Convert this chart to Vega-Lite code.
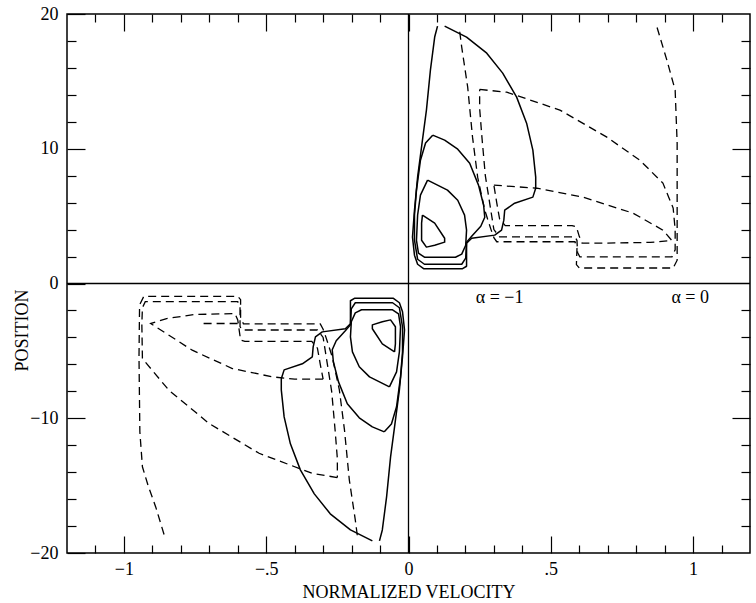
{
"$schema": "https://vega.github.io/schema/vega-lite/v6.json",
"width": 683, "height": 539,
"autosize": "none",
"padding": {"left": 67, "top": 14, "right": 6, "bottom": 50},
"config": {
  "view": {"stroke": "black", "strokeWidth": 1.5},
  "axis": {"domain": false, "grid": false, "labelFont": "Liberation Serif", "titleFont": "Liberation Serif", "labelFontSize": 18, "titleFontSize": 18, "titleFontWeight": "normal", "tickColor": "black", "labelColor": "black", "titleColor": "black", "tickWidth": 1.2}
},
"datasets": {
  "curves": [
    {"c":"S1","k":"s","i":0,"v":0.127,"p":19.1},{"c":"S1","k":"s","i":1,"v":0.204,"p":18.28},{"c":"S1","k":"s","i":2,"v":0.275,"p":17.09},{"c":"S1","k":"s","i":3,"v":0.331,"p":15.61},{"c":"S1","k":"s","i":4,"v":0.38,"p":13.83},{"c":"S1","k":"s","i":5,"v":0.415,"p":11.9},{"c":"S1","k":"s","i":6,"v":0.437,"p":9.9},{"c":"S1","k":"s","i":7,"v":0.447,"p":7.89},{"c":"S1","k":"s","i":8,"v":0.447,"p":7.07},{"c":"S1","k":"s","i":9,"v":0.437,"p":6.41},{"c":"S1","k":"s","i":10,"v":0.373,"p":5.96},{"c":"S1","k":"s","i":11,"v":0.338,"p":5.44},{"c":"S1","k":"s","i":12,"v":0.335,"p":4.7},{"c":"S1","k":"s","i":13,"v":0.327,"p":3.96},{"c":"S1","k":"s","i":14,"v":0.303,"p":3.59},{"c":"S1","k":"s","i":15,"v":0.222,"p":3.36},{"c":"S1","k":"s","i":16,"v":0.204,"p":2.99},{"c":"S1","k":"s","i":17,"v":0.204,"p":1.28},{"c":"S1","k":"s","i":18,"v":0.19,"p":1.1},{"c":"S1","k":"s","i":19,"v":0.053,"p":1.1},{"c":"S1","k":"s","i":20,"v":0.032,"p":1.43},{"c":"S1","k":"s","i":21,"v":0.021,"p":2.1},{"c":"S1","k":"s","i":22,"v":0.014,"p":3.44},{"c":"S1","k":"s","i":23,"v":0.021,"p":5.44},{"c":"S1","k":"s","i":24,"v":0.032,"p":7.89},{"c":"S1","k":"s","i":25,"v":0.049,"p":10.64},{"c":"S1","k":"s","i":26,"v":0.063,"p":12.87},{"c":"S1","k":"s","i":27,"v":0.077,"p":15.84},{"c":"S1","k":"s","i":28,"v":0.092,"p":18.29},{"c":"S1","k":"s","i":29,"v":0.102,"p":19.1},
    {"c":"S2","k":"s","i":0,"v":0.085,"p":11.01},{"c":"S2","k":"s","i":1,"v":0.127,"p":10.64},{"c":"S2","k":"s","i":2,"v":0.173,"p":9.97},{"c":"S2","k":"s","i":3,"v":0.215,"p":8.93},{"c":"S2","k":"s","i":4,"v":0.246,"p":7.3},{"c":"S2","k":"s","i":5,"v":0.264,"p":5.81},{"c":"S2","k":"s","i":6,"v":0.268,"p":4.92},{"c":"S2","k":"s","i":7,"v":0.254,"p":4.25},{"c":"S2","k":"s","i":8,"v":0.222,"p":3.51},{"c":"S2","k":"s","i":9,"v":0.204,"p":3.07},{"c":"S2","k":"s","i":10,"v":0.201,"p":1.88},{"c":"S2","k":"s","i":11,"v":0.187,"p":1.43},{"c":"S2","k":"s","i":12,"v":0.056,"p":1.43},{"c":"S2","k":"s","i":13,"v":0.032,"p":1.8},{"c":"S2","k":"s","i":14,"v":0.021,"p":3.21},{"c":"S2","k":"s","i":15,"v":0.021,"p":5.07},{"c":"S2","k":"s","i":16,"v":0.028,"p":6.93},{"c":"S2","k":"s","i":17,"v":0.042,"p":9.15},{"c":"S2","k":"s","i":18,"v":0.06,"p":10.42},{"c":"S2","k":"s","i":19,"v":0.085,"p":11.01},
    {"c":"S3","k":"s","i":0,"v":0.067,"p":7.67},{"c":"S3","k":"s","i":1,"v":0.102,"p":7.3},{"c":"S3","k":"s","i":2,"v":0.137,"p":6.93},{"c":"S3","k":"s","i":3,"v":0.173,"p":6.18},{"c":"S3","k":"s","i":4,"v":0.197,"p":5.07},{"c":"S3","k":"s","i":5,"v":0.204,"p":3.96},{"c":"S3","k":"s","i":6,"v":0.201,"p":2.84},{"c":"S3","k":"s","i":7,"v":0.187,"p":2.18},{"c":"S3","k":"s","i":8,"v":0.165,"p":1.95},{"c":"S3","k":"s","i":9,"v":0.056,"p":1.95},{"c":"S3","k":"s","i":10,"v":0.035,"p":2.25},{"c":"S3","k":"s","i":11,"v":0.028,"p":3.21},{"c":"S3","k":"s","i":12,"v":0.032,"p":5.07},{"c":"S3","k":"s","i":13,"v":0.042,"p":6.56},{"c":"S3","k":"s","i":14,"v":0.067,"p":7.67},
    {"c":"S4","k":"s","i":0,"v":0.049,"p":5.07},{"c":"S4","k":"s","i":1,"v":0.092,"p":4.48},{"c":"S4","k":"s","i":2,"v":0.127,"p":3.36},{"c":"S4","k":"s","i":3,"v":0.127,"p":3.07},{"c":"S4","k":"s","i":4,"v":0.092,"p":2.84},{"c":"S4","k":"s","i":5,"v":0.063,"p":2.7},{"c":"S4","k":"s","i":6,"v":0.046,"p":3.21},{"c":"S4","k":"s","i":7,"v":0.046,"p":4.48},{"c":"S4","k":"s","i":8,"v":0.049,"p":5.07},
    {"c":"D1","k":"d","i":0,"v":0.18,"p":18.68},{"c":"D1","k":"d","i":1,"v":0.187,"p":17.54},{"c":"D1","k":"d","i":2,"v":0.208,"p":14.57},{"c":"D1","k":"d","i":3,"v":0.225,"p":10.86},{"c":"D1","k":"d","i":4,"v":0.243,"p":7.89},{"c":"D1","k":"d","i":5,"v":0.268,"p":5.44},{"c":"D1","k":"d","i":6,"v":0.29,"p":4.0},{"c":"D1","k":"d","i":7,"v":0.3,"p":3.4},{"c":"D1","k":"d","i":8,"v":0.31,"p":3.1},{"c":"D1","k":"d","i":9,"v":0.585,"p":3.1},{"c":"D1","k":"d","i":10,"v":0.592,"p":2.6},{"c":"D1","k":"d","i":11,"v":0.59,"p":1.4},{"c":"D1","k":"d","i":12,"v":0.6,"p":1.15},{"c":"D1","k":"d","i":13,"v":0.93,"p":1.15},{"c":"D1","k":"d","i":14,"v":0.944,"p":1.73},{"c":"D1","k":"d","i":15,"v":0.944,"p":5.44},{"c":"D1","k":"d","i":16,"v":0.944,"p":10.42},{"c":"D1","k":"d","i":17,"v":0.937,"p":14.35},{"c":"D1","k":"d","i":18,"v":0.908,"p":16.57},{"c":"D1","k":"d","i":19,"v":0.873,"p":19.03},
    {"c":"D2","k":"d","i":0,"v":0.25,"p":14.4},{"c":"D2","k":"d","i":1,"v":0.345,"p":14.2},{"c":"D2","k":"d","i":2,"v":0.532,"p":12.87},{"c":"D2","k":"d","i":3,"v":0.697,"p":10.86},{"c":"D2","k":"d","i":4,"v":0.813,"p":9.15},{"c":"D2","k":"d","i":5,"v":0.894,"p":7.45},{"c":"D2","k":"d","i":6,"v":0.93,"p":5.6},{"c":"D2","k":"d","i":7,"v":0.937,"p":4.0},{"c":"D2","k":"d","i":8,"v":0.937,"p":2.5},{"c":"D2","k":"d","i":9,"v":0.926,"p":1.98},{"c":"D2","k":"d","i":10,"v":0.602,"p":1.98},{"c":"D2","k":"d","i":11,"v":0.594,"p":2.3},{"c":"D2","k":"d","i":12,"v":0.592,"p":3.2},{"c":"D2","k":"d","i":13,"v":0.585,"p":3.46},{"c":"D2","k":"d","i":14,"v":0.32,"p":3.46},{"c":"D2","k":"d","i":15,"v":0.3,"p":4.0},{"c":"D2","k":"d","i":16,"v":0.285,"p":6.0},{"c":"D2","k":"d","i":17,"v":0.27,"p":8.0},{"c":"D2","k":"d","i":18,"v":0.258,"p":10.86},{"c":"D2","k":"d","i":19,"v":0.25,"p":13.0},{"c":"D2","k":"d","i":20,"v":0.25,"p":14.4},
    {"c":"D3","k":"d","i":0,"v":0.3,"p":7.3},{"c":"D3","k":"d","i":1,"v":0.451,"p":7.07},{"c":"D3","k":"d","i":2,"v":0.613,"p":6.41},{"c":"D3","k":"d","i":3,"v":0.789,"p":5.22},{"c":"D3","k":"d","i":4,"v":0.894,"p":3.96},{"c":"D3","k":"d","i":5,"v":0.925,"p":3.2},{"c":"D3","k":"d","i":6,"v":0.85,"p":3.05},{"c":"D3","k":"d","i":7,"v":0.7,"p":3.0},{"c":"D3","k":"d","i":8,"v":0.61,"p":3.0},{"c":"D3","k":"d","i":9,"v":0.6,"p":3.5},{"c":"D3","k":"d","i":10,"v":0.59,"p":4.2},{"c":"D3","k":"d","i":11,"v":0.575,"p":4.3},{"c":"D3","k":"d","i":12,"v":0.34,"p":4.3},{"c":"D3","k":"d","i":13,"v":0.32,"p":4.8},{"c":"D3","k":"d","i":14,"v":0.31,"p":6.0},{"c":"D3","k":"d","i":15,"v":0.3,"p":7.3},

    {"c":"L1","k":"s","i":0,"v":-0.127,"p":-19.1},{"c":"L1","k":"s","i":1,"v":-0.204,"p":-18.28},{"c":"L1","k":"s","i":2,"v":-0.275,"p":-17.09},{"c":"L1","k":"s","i":3,"v":-0.331,"p":-15.61},{"c":"L1","k":"s","i":4,"v":-0.38,"p":-13.83},{"c":"L1","k":"s","i":5,"v":-0.415,"p":-11.9},{"c":"L1","k":"s","i":6,"v":-0.437,"p":-9.9},{"c":"L1","k":"s","i":7,"v":-0.447,"p":-7.89},{"c":"L1","k":"s","i":8,"v":-0.447,"p":-7.07},{"c":"L1","k":"s","i":9,"v":-0.437,"p":-6.41},{"c":"L1","k":"s","i":10,"v":-0.373,"p":-5.96},{"c":"L1","k":"s","i":11,"v":-0.338,"p":-5.44},{"c":"L1","k":"s","i":12,"v":-0.335,"p":-4.7},{"c":"L1","k":"s","i":13,"v":-0.327,"p":-3.96},{"c":"L1","k":"s","i":14,"v":-0.303,"p":-3.59},{"c":"L1","k":"s","i":15,"v":-0.222,"p":-3.36},{"c":"L1","k":"s","i":16,"v":-0.204,"p":-2.99},{"c":"L1","k":"s","i":17,"v":-0.204,"p":-1.28},{"c":"L1","k":"s","i":18,"v":-0.19,"p":-1.1},{"c":"L1","k":"s","i":19,"v":-0.053,"p":-1.1},{"c":"L1","k":"s","i":20,"v":-0.032,"p":-1.43},{"c":"L1","k":"s","i":21,"v":-0.021,"p":-2.1},{"c":"L1","k":"s","i":22,"v":-0.014,"p":-3.44},{"c":"L1","k":"s","i":23,"v":-0.021,"p":-5.44},{"c":"L1","k":"s","i":24,"v":-0.032,"p":-7.89},{"c":"L1","k":"s","i":25,"v":-0.049,"p":-10.64},{"c":"L1","k":"s","i":26,"v":-0.063,"p":-12.87},{"c":"L1","k":"s","i":27,"v":-0.077,"p":-15.84},{"c":"L1","k":"s","i":28,"v":-0.092,"p":-18.29},{"c":"L1","k":"s","i":29,"v":-0.102,"p":-19.1},
    {"c":"L2","k":"s","i":0,"v":-0.085,"p":-11.01},{"c":"L2","k":"s","i":1,"v":-0.127,"p":-10.64},{"c":"L2","k":"s","i":2,"v":-0.173,"p":-9.97},{"c":"L2","k":"s","i":3,"v":-0.215,"p":-8.93},{"c":"L2","k":"s","i":4,"v":-0.246,"p":-7.3},{"c":"L2","k":"s","i":5,"v":-0.264,"p":-5.81},{"c":"L2","k":"s","i":6,"v":-0.268,"p":-4.92},{"c":"L2","k":"s","i":7,"v":-0.254,"p":-4.25},{"c":"L2","k":"s","i":8,"v":-0.222,"p":-3.51},{"c":"L2","k":"s","i":9,"v":-0.204,"p":-3.07},{"c":"L2","k":"s","i":10,"v":-0.201,"p":-1.88},{"c":"L2","k":"s","i":11,"v":-0.187,"p":-1.43},{"c":"L2","k":"s","i":12,"v":-0.056,"p":-1.43},{"c":"L2","k":"s","i":13,"v":-0.032,"p":-1.8},{"c":"L2","k":"s","i":14,"v":-0.021,"p":-3.21},{"c":"L2","k":"s","i":15,"v":-0.021,"p":-5.07},{"c":"L2","k":"s","i":16,"v":-0.028,"p":-6.93},{"c":"L2","k":"s","i":17,"v":-0.042,"p":-9.15},{"c":"L2","k":"s","i":18,"v":-0.06,"p":-10.42},{"c":"L2","k":"s","i":19,"v":-0.085,"p":-11.01},
    {"c":"L3","k":"s","i":0,"v":-0.067,"p":-7.67},{"c":"L3","k":"s","i":1,"v":-0.102,"p":-7.3},{"c":"L3","k":"s","i":2,"v":-0.137,"p":-6.93},{"c":"L3","k":"s","i":3,"v":-0.173,"p":-6.18},{"c":"L3","k":"s","i":4,"v":-0.197,"p":-5.07},{"c":"L3","k":"s","i":5,"v":-0.204,"p":-3.96},{"c":"L3","k":"s","i":6,"v":-0.201,"p":-2.84},{"c":"L3","k":"s","i":7,"v":-0.187,"p":-2.18},{"c":"L3","k":"s","i":8,"v":-0.165,"p":-1.95},{"c":"L3","k":"s","i":9,"v":-0.056,"p":-1.95},{"c":"L3","k":"s","i":10,"v":-0.035,"p":-2.25},{"c":"L3","k":"s","i":11,"v":-0.028,"p":-3.21},{"c":"L3","k":"s","i":12,"v":-0.032,"p":-5.07},{"c":"L3","k":"s","i":13,"v":-0.042,"p":-6.56},{"c":"L3","k":"s","i":14,"v":-0.067,"p":-7.67},
    {"c":"L4","k":"s","i":0,"v":-0.049,"p":-5.07},{"c":"L4","k":"s","i":1,"v":-0.092,"p":-4.48},{"c":"L4","k":"s","i":2,"v":-0.127,"p":-3.36},{"c":"L4","k":"s","i":3,"v":-0.127,"p":-3.07},{"c":"L4","k":"s","i":4,"v":-0.092,"p":-2.84},{"c":"L4","k":"s","i":5,"v":-0.063,"p":-2.7},{"c":"L4","k":"s","i":6,"v":-0.046,"p":-3.21},{"c":"L4","k":"s","i":7,"v":-0.046,"p":-4.48},{"c":"L4","k":"s","i":8,"v":-0.049,"p":-5.07},
    {"c":"M1","k":"d","i":0,"v":-0.18,"p":-18.68},{"c":"M1","k":"d","i":1,"v":-0.187,"p":-17.54},{"c":"M1","k":"d","i":2,"v":-0.208,"p":-14.57},{"c":"M1","k":"d","i":3,"v":-0.225,"p":-10.86},{"c":"M1","k":"d","i":4,"v":-0.243,"p":-7.89},{"c":"M1","k":"d","i":5,"v":-0.268,"p":-5.44},{"c":"M1","k":"d","i":6,"v":-0.29,"p":-4.0},{"c":"M1","k":"d","i":7,"v":-0.3,"p":-3.4},{"c":"M1","k":"d","i":8,"v":-0.31,"p":-3.0},{"c":"M1","k":"d","i":9,"v":-0.58,"p":-3.0},{"c":"M1","k":"d","i":10,"v":-0.59,"p":-2.5},{"c":"M1","k":"d","i":11,"v":-0.59,"p":-1.2},{"c":"M1","k":"d","i":12,"v":-0.6,"p":-0.95},{"c":"M1","k":"d","i":13,"v":-0.93,"p":-0.95},{"c":"M1","k":"d","i":14,"v":-0.945,"p":-1.6},{"c":"M1","k":"d","i":15,"v":-0.947,"p":-5.44},{"c":"M1","k":"d","i":16,"v":-0.944,"p":-11.0},{"c":"M1","k":"d","i":17,"v":-0.935,"p":-13.6},{"c":"M1","k":"d","i":18,"v":-0.915,"p":-15.0},{"c":"M1","k":"d","i":19,"v":-0.888,"p":-16.6},{"c":"M1","k":"d","i":20,"v":-0.855,"p":-18.9},
    {"c":"M2","k":"d","i":0,"v":-0.25,"p":-14.4},{"c":"M2","k":"d","i":1,"v":-0.337,"p":-14.1},{"c":"M2","k":"d","i":2,"v":-0.525,"p":-12.6},{"c":"M2","k":"d","i":3,"v":-0.7,"p":-10.4},{"c":"M2","k":"d","i":4,"v":-0.842,"p":-7.92},{"c":"M2","k":"d","i":5,"v":-0.935,"p":-5.57},{"c":"M2","k":"d","i":6,"v":-0.937,"p":-3.0},{"c":"M2","k":"d","i":7,"v":-0.935,"p":-1.8},{"c":"M2","k":"d","i":8,"v":-0.925,"p":-1.35},{"c":"M2","k":"d","i":9,"v":-0.6,"p":-1.35},{"c":"M2","k":"d","i":10,"v":-0.592,"p":-1.7},{"c":"M2","k":"d","i":11,"v":-0.592,"p":-3.2},{"c":"M2","k":"d","i":12,"v":-0.585,"p":-3.45},{"c":"M2","k":"d","i":13,"v":-0.32,"p":-3.45},{"c":"M2","k":"d","i":14,"v":-0.3,"p":-4.0},{"c":"M2","k":"d","i":15,"v":-0.285,"p":-6.0},{"c":"M2","k":"d","i":16,"v":-0.27,"p":-8.0},{"c":"M2","k":"d","i":17,"v":-0.258,"p":-10.86},{"c":"M2","k":"d","i":18,"v":-0.25,"p":-13.0},{"c":"M2","k":"d","i":19,"v":-0.25,"p":-14.4},
    {"c":"M3","k":"d","i":0,"v":-0.3,"p":-7.1},{"c":"M3","k":"d","i":1,"v":-0.4,"p":-7.1},{"c":"M3","k":"d","i":2,"v":-0.478,"p":-6.93},{"c":"M3","k":"d","i":3,"v":-0.619,"p":-6.31},{"c":"M3","k":"d","i":4,"v":-0.76,"p":-4.95},{"c":"M3","k":"d","i":5,"v":-0.906,"p":-2.97},{"c":"M3","k":"d","i":6,"v":-0.85,"p":-2.6},{"c":"M3","k":"d","i":7,"v":-0.75,"p":-2.3},{"c":"M3","k":"d","i":8,"v":-0.61,"p":-2.23},{"c":"M3","k":"d","i":9,"v":-0.6,"p":-2.7},{"c":"M3","k":"d","i":10,"v":-0.59,"p":-4.2},{"c":"M3","k":"d","i":11,"v":-0.575,"p":-4.3},{"c":"M3","k":"d","i":12,"v":-0.34,"p":-4.3},{"c":"M3","k":"d","i":13,"v":-0.32,"p":-4.8},{"c":"M3","k":"d","i":14,"v":-0.31,"p":-6.0},{"c":"M3","k":"d","i":15,"v":-0.3,"p":-7.1},
    {"c":"M4","k":"d","i":0,"v":-0.72,"p":-2.97},{"c":"M4","k":"d","i":1,"v":-0.6,"p":-2.97}
  ],
  "notes": [
    {"t": "α = −1", "v": 0.32, "p": -1.05},
    {"t": "α = 0", "v": 0.99, "p": -1.05}
  ]
},
"layer": [
  {
    "data": {"name": "curves"},
    "transform": [{"filter": "datum.k == 's'"}],
    "mark": {"type": "line", "color": "black", "strokeWidth": 1.5, "strokeJoin": "round"},
    "encoding": {
      "x": {"field": "v", "type": "quantitative", "scale": {"domain": [-1.2, 1.2], "nice": false, "zero": false},
        "axis": {"orient": "bottom", "values": [-1, -0.5, 0, 0.5, 1], "tickSize": -17, "labelPadding": 24,
          "labelExpr": "datum.value == 0 ? '0' : datum.value == 0.5 ? '.5' : datum.value == 1 ? '1' : datum.value == -0.5 ? '−.5' : '−1'",
          "title": "NORMALIZED VELOCITY", "titleY": 30, "titleBaseline": "top"}},
      "y": {"field": "p", "type": "quantitative", "scale": {"domain": [-20, 20], "nice": false, "zero": false},
        "axis": {"orient": "left", "values": [-20, -10, 0, 10, 20], "tickSize": -18, "labelPadding": 27,
          "labelExpr": "datum.value < 0 ? '−' + abs(datum.value) : '' + datum.value",
          "title": "POSITION", "titleX": -45, "titleY": 316, "titleAngle": -90, "titleBaseline": "middle", "titleAlign": "center"}},
      "detail": {"field": "c"},
      "order": {"field": "i", "type": "quantitative"}
    }
  },
  {
    "data": {"name": "curves"},
    "transform": [{"filter": "datum.k == 'd' && datum.v > 0"}],
    "mark": {"type": "line", "color": "black", "strokeWidth": 1.3, "strokeDash": [8, 5]},
    "encoding": {
      "x": {"field": "v", "type": "quantitative", "scale": {"domain": [-1.2, 1.2], "nice": false, "zero": false},
        "axis": {"orient": "bottom", "values": [-1.1, -0.9, -0.8, -0.7, -0.6, -0.4, -0.3, -0.2, -0.1, 0.1, 0.2, 0.3, 0.4, 0.6, 0.7, 0.8, 0.9, 1.1], "tickSize": -8, "labels": false, "title": null}},
      "y": {"field": "p", "type": "quantitative", "scale": {"domain": [-20, 20], "nice": false, "zero": false},
        "axis": {"orient": "left", "values": [-18, -16, -14, -12, -8, -6, -4, -2, 2, 4, 6, 8, 12, 14, 16, 18], "tickSize": -9, "labels": false, "title": null}},
      "detail": {"field": "c"},
      "order": {"field": "i", "type": "quantitative"}
    }
  },
  {
    "data": {"name": "curves"},
    "transform": [{"filter": "datum.k == 'd' && datum.v < 0"}],
    "mark": {"type": "line", "color": "black", "strokeWidth": 1.3, "strokeDash": [8, 5]},
    "encoding": {
      "x": {"field": "v", "type": "quantitative", "scale": {"domain": [-1.2, 1.2], "nice": false, "zero": false},
        "axis": {"orient": "top", "values": [-1.1, -0.9, -0.8, -0.7, -0.6, -0.4, -0.3, -0.2, -0.1, 0.1, 0.2, 0.3, 0.4, 0.6, 0.7, 0.8, 0.9, 1.1], "tickSize": -8, "labels": false, "title": null}},
      "y": {"field": "p", "type": "quantitative", "scale": {"domain": [-20, 20], "nice": false, "zero": false},
        "axis": {"orient": "right", "values": [-18, -16, -14, -12, -8, -6, -4, -2, 2, 4, 6, 8, 12, 14, 16, 18], "tickSize": -9, "labels": false, "title": null}},
      "detail": {"field": "c"},
      "order": {"field": "i", "type": "quantitative"}
    }
  },
  {
    "data": {"name": "notes"},
    "mark": {"type": "text", "font": "Liberation Serif", "fontSize": 18, "color": "black", "align": "center", "baseline": "middle"},
    "encoding": {
      "x": {"field": "v", "type": "quantitative", "scale": {"domain": [-1.2, 1.2], "nice": false, "zero": false},
        "axis": {"orient": "top", "values": [-1, -0.5, 0, 0.5, 1], "tickSize": -17, "labels": false, "title": null}},
      "y": {"field": "p", "type": "quantitative", "scale": {"domain": [-20, 20], "nice": false, "zero": false},
        "axis": {"orient": "right", "values": [-10, 10], "tickSize": -18, "labels": false, "title": null}},
      "text": {"field": "t"}
    }
  },
  {
    "data": {"values": [{"z": 0}]},
    "mark": {"type": "rule", "color": "black", "strokeWidth": 1.3},
    "encoding": {"y": {"field": "z", "type": "quantitative", "scale": {"domain": [-20, 20], "nice": false, "zero": false}, "axis": null}}
  },
  {
    "data": {"values": [{"z": 0}]},
    "mark": {"type": "rule", "color": "black", "strokeWidth": 1.3},
    "encoding": {"x": {"field": "z", "type": "quantitative", "scale": {"domain": [-1.2, 1.2], "nice": false, "zero": false}, "axis": null}}
  }
],
"resolve": {"axis": {"x": "independent", "y": "independent"}}
}
